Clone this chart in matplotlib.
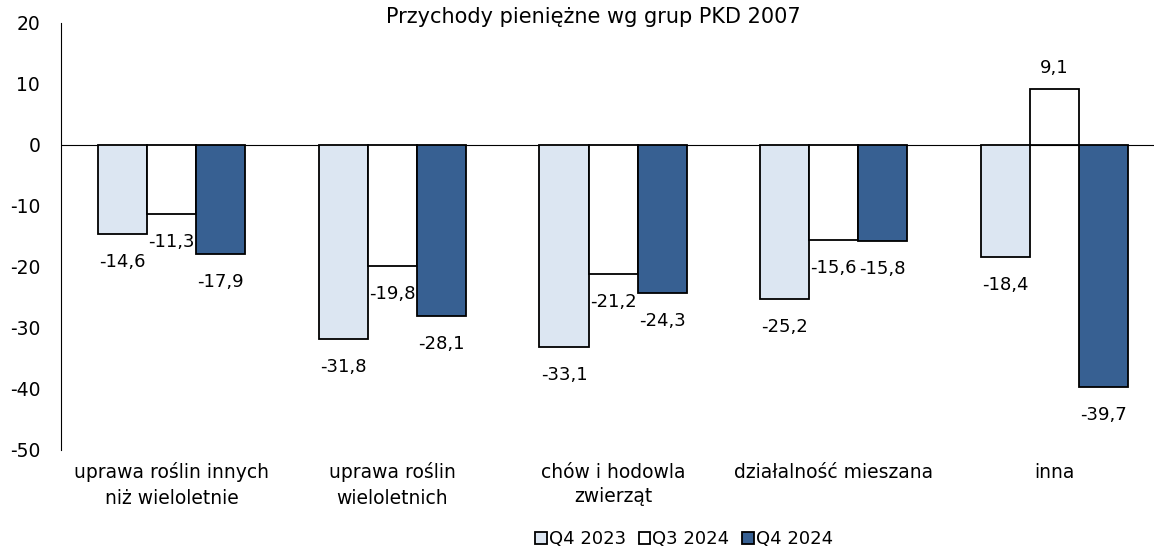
import numpy as np
import matplotlib.pyplot as plt

categories = ["uprawa roślin innych\nniż wieloletnie", "uprawa roślin\nwieloletnich",
              "chów i hodowla\nzwierząt", "działalność mieszana", "inna"]
series_names = ["Q4 2023", "Q3 2024", "Q4 2024"]
q4_2023 = [-14.6, -31.8, -33.1, -25.2, -18.4]
q3_2024 = [-11.3, -19.8, -21.2, -15.6, 9.1]
q4_2024 = [-17.9, -28.1, -24.3, -15.8, -39.7]
colors = ["#dce6f2", "#ffffff", "#376092"]

plt.rcParams['font.family'] = ['DejaVu Sans']
plt.rcParams['axes.unicode_minus'] = False
fig = plt.figure(figsize=(11.54, 5.51), dpi=100)
ax = fig.add_axes([61 / 1154, 101 / 551, 1093 / 1154, 427 / 551])

x = np.arange(len(categories))
w = 0.222
for i, (vals, name, c) in enumerate(zip([q4_2023, q3_2024, q4_2024], series_names, colors)):
    pos = x + (i - 1) * w
    ax.bar(pos, vals, width=w, color=c, edgecolor="black", linewidth=1.3, label=name)
    for px, v in zip(pos, vals):
        lbl = f"{v:.1f}".replace(".", ",")
        off = 21 if v >= 0 else -28
        ax.annotate(lbl, (px, v), xytext=(0, off), textcoords="offset pixels",
                    ha="center", va="center", fontsize=13)

ax.axhline(0, color="black", linewidth=0.8, zorder=0)
ax.set_xlim(-0.5, 4.45)
ax.set_ylim(-50, 20)
ax.set_yticks(range(-50, 21, 10))
ax.set_xticks(x)
ax.set_xticklabels(categories, fontsize=13.5, linespacing=1.4)
ax.tick_params(axis="x", length=0, pad=9)
ax.tick_params(axis="y", length=0, pad=15, labelsize=13.5)
for s in ["top", "right", "bottom"]:
    ax.spines[s].set_visible(False)
ax.spines["left"].set_linewidth(0.8)

fig.text(593 / 1154, 1 - 17 / 551, "Przychody pieniężne wg grup PKD 2007",
         ha="center", va="center", fontsize=15)

fig.legend(loc="center", bbox_to_anchor=(684 / 1154, 1 - 539 / 551), ncol=3,
           frameon=False, fontsize=13, handlelength=0.65, handleheight=0.65,
           handletextpad=0.1, columnspacing=0.7)

fig.savefig("out.png", dpi=100)
